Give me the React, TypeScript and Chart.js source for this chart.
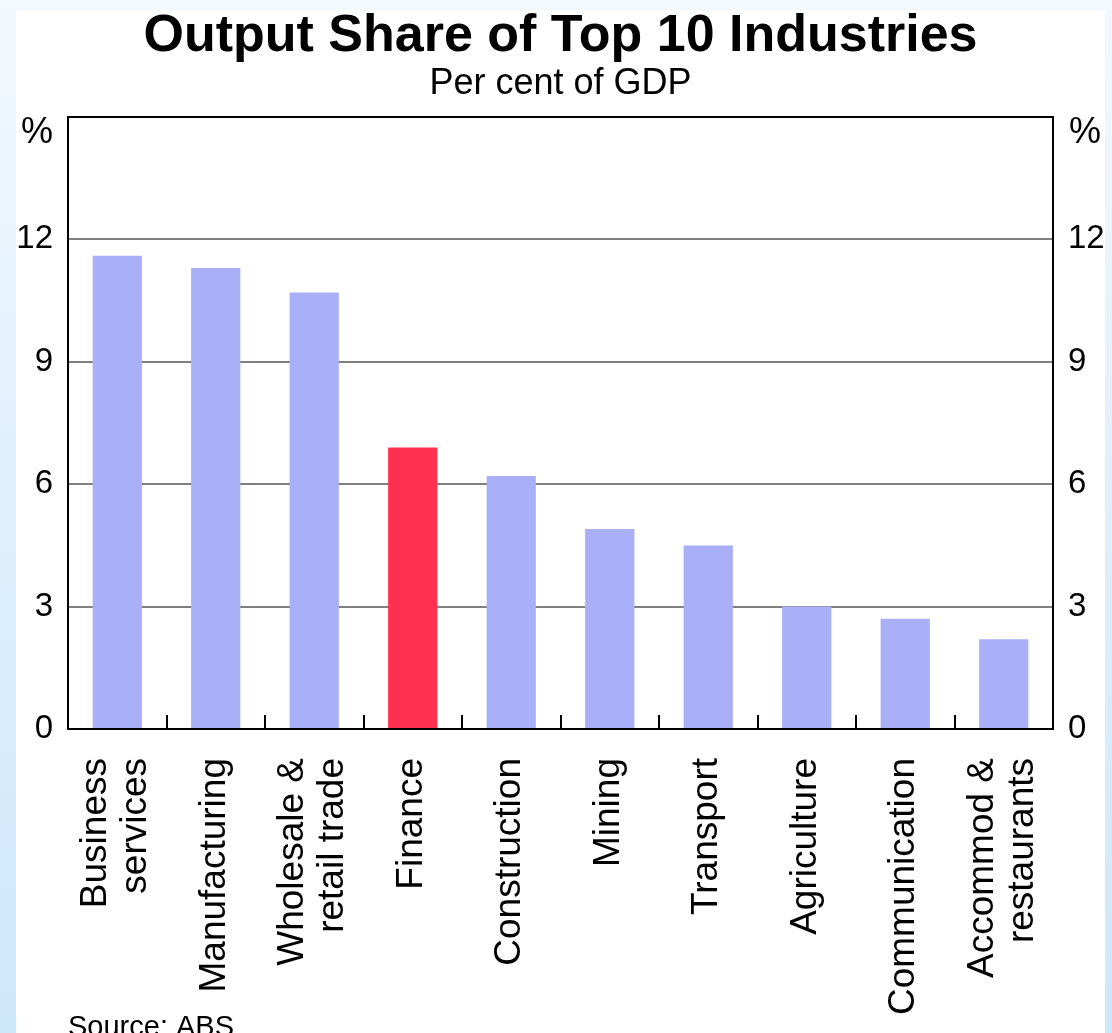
import { useEffect, useRef } from 'react';
import { Chart, registerables } from 'chart.js';

Chart.register(...registerables);

// ---- data ----
const categories: string[][] = [
  ['Business', 'services'],
  ['Manufacturing'],
  ['Wholesale &', 'retail trade'],
  ['Finance'],
  ['Construction'],
  ['Mining'],
  ['Transport'],
  ['Agriculture'],
  ['Communication'],
  ['Accommod &', 'restaurants'],
];
const shareValues = [11.6, 11.3, 10.7, 6.9, 6.2, 4.9, 4.5, 3.0, 2.7, 2.2];
const highlightedCategory = 'Finance';
const yMin = 0;
const yMax = 15;
const yStep = 3;
const titleText = 'Output Share of Top 10 Industries';
const subtitleText = 'Per cent of GDP';
const unitLabel = '%';
const sourceText = 'Source: ABS';

// ---- styles ----
const FONT = '"Liberation Sans", Arial, Helvetica, sans-serif';
const BAR_BLUE = '#aab0f8';
const BAR_RED = '#ff3050';
const GRID_GREY = '#808080';
const CANVAS_W = 1089;
const CANVAS_H = 1023;

const overlayPlugin = {
  id: 'overlay',
  afterDraw(chart: any) {
    const { ctx, chartArea, scales } = chart;
    const xs = scales.x;
    ctx.save();
    // inward tick marks at category boundaries
    ctx.strokeStyle = '#000';
    ctx.lineWidth = 2;
    for (let i = 0; i < categories.length - 1; i++) {
      const px = Math.round((xs.getPixelForValue(i) + xs.getPixelForValue(i + 1)) / 2);
      ctx.beginPath();
      ctx.moveTo(px, chartArea.bottom);
      ctx.lineTo(px, chartArea.bottom - 14);
      ctx.stroke();
    }
    // rotated category labels
    ctx.fillStyle = '#000';
    ctx.font = `37px ${FONT}`;
    ctx.textAlign = 'right';
    ctx.textBaseline = 'middle';
    const lh = 40;
    categories.forEach((lines, i) => {
      const cx = xs.getPixelForValue(i);
      lines.forEach((line, j) => {
        const lx = cx + (j - (lines.length - 1) / 2) * lh - 1;
        ctx.save();
        ctx.translate(lx, chartArea.bottom + 29);
        ctx.rotate(-Math.PI / 2);
        ctx.fillText(line, 0, 0);
        ctx.restore();
      });
    });
    // unit labels
    ctx.font = `36px ${FONT}`;
    ctx.textBaseline = 'middle';
    ctx.textAlign = 'right';
    ctx.fillText(unitLabel, chartArea.left - 15, chartArea.top + 16);
    ctx.textAlign = 'left';
    ctx.fillText(unitLabel, chartArea.right + 16, chartArea.top + 16);
    // source
    ctx.font = `29px ${FONT}`;
    ctx.textAlign = 'left';
    ctx.textBaseline = 'alphabetic';
    ctx.fillText(sourceText, chartArea.left, chartArea.bottom + 307);
    ctx.restore();
  },
};

export default function App() {
  const canvasRef = useRef<HTMLCanvasElement | null>(null);

  useEffect(() => {
    const canvas = canvasRef.current;
    if (!canvas) return;
    const labels = categories.map((c) => c.join(' '));
    const yTickFont = { family: FONT, size: 33 };
    const chart = new Chart(canvas, {
      type: 'bar',
      data: {
        labels,
        datasets: [
          {
            data: shareValues,
            backgroundColor: labels.map((l) => (l === highlightedCategory ? BAR_RED : BAR_BLUE)),
            borderWidth: 0,
            barPercentage: 0.5,
            categoryPercentage: 1.0,
            yAxisID: 'y',
          },
        ],
      },
      options: {
        animation: false,
        responsive: false,
        devicePixelRatio: 1,
        layout: { padding: { top: 3, left: 0, right: 0, bottom: 0 } },
        plugins: {
          legend: { display: false },
          tooltip: { enabled: false },
          title: {
            display: true,
            text: titleText,
            color: '#000',
            font: { family: FONT, size: 52, weight: 'bold', lineHeight: 0.9 },
            padding: { top: 0, bottom: 6 },
          },
          subtitle: {
            display: true,
            text: subtitleText,
            color: '#000',
            font: { family: FONT, size: 36, lineHeight: 1 },
            padding: { top: 0, bottom: 15.2 },
          },
        },
        scales: {
          x: {
            grid: { display: false, drawTicks: false },
            border: { display: true, color: '#000', width: 2 },
            ticks: { display: false },
            afterFit: (s: any) => {
              s.height = 304;
            },
          },
          y: {
            position: 'left',
            min: yMin,
            max: yMax,
            ticks: {
              stepSize: yStep,
              padding: 15,
              color: '#000',
              font: yTickFont,
              callback: (v: any) => (v === yMax ? '' : String(v)),
            },
            grid: {
              drawTicks: false,
              lineWidth: 2,
              color: (c: any) =>
                c.tick && c.tick.value === yMax ? '#000' : c.tick && c.tick.value === yMin ? 'rgba(0,0,0,0)' : GRID_GREY,
            },
            border: { display: true, color: '#000', width: 2 },
            afterFit: (s: any) => {
              s.width = 52;
            },
          },
          y2: {
            position: 'right',
            min: yMin,
            max: yMax,
            ticks: {
              stepSize: yStep,
              padding: 15,
              color: '#000',
              font: yTickFont,
              callback: (v: any) => (v === yMax ? '' : String(v)),
            },
            grid: { display: false, drawTicks: false },
            border: { display: true, color: '#000', width: 2 },
            afterFit: (s: any) => {
              s.width = 52;
            },
          },
        },
      },
      plugins: [overlayPlugin],
    } as any);
    return () => chart.destroy();
  }, []);

  return (
    <div
      style={{
        position: 'absolute',
        left: 0,
        top: 0,
        width: 1112,
        height: 1033,
        overflow: 'hidden',
        background: 'linear-gradient(to bottom, #f3f9fe 0%, #e2f1fd 40%, #cde7fb 100%)',
      }}
    >
      <div
        style={{
          position: 'absolute',
          left: 16,
          top: 10,
          width: CANVAS_W,
          height: CANVAS_H,
          background: '#fff',
        }}
      >
        <canvas ref={canvasRef} width={CANVAS_W} height={CANVAS_H} style={{ display: 'block' }} />
      </div>
    </div>
  );
}
